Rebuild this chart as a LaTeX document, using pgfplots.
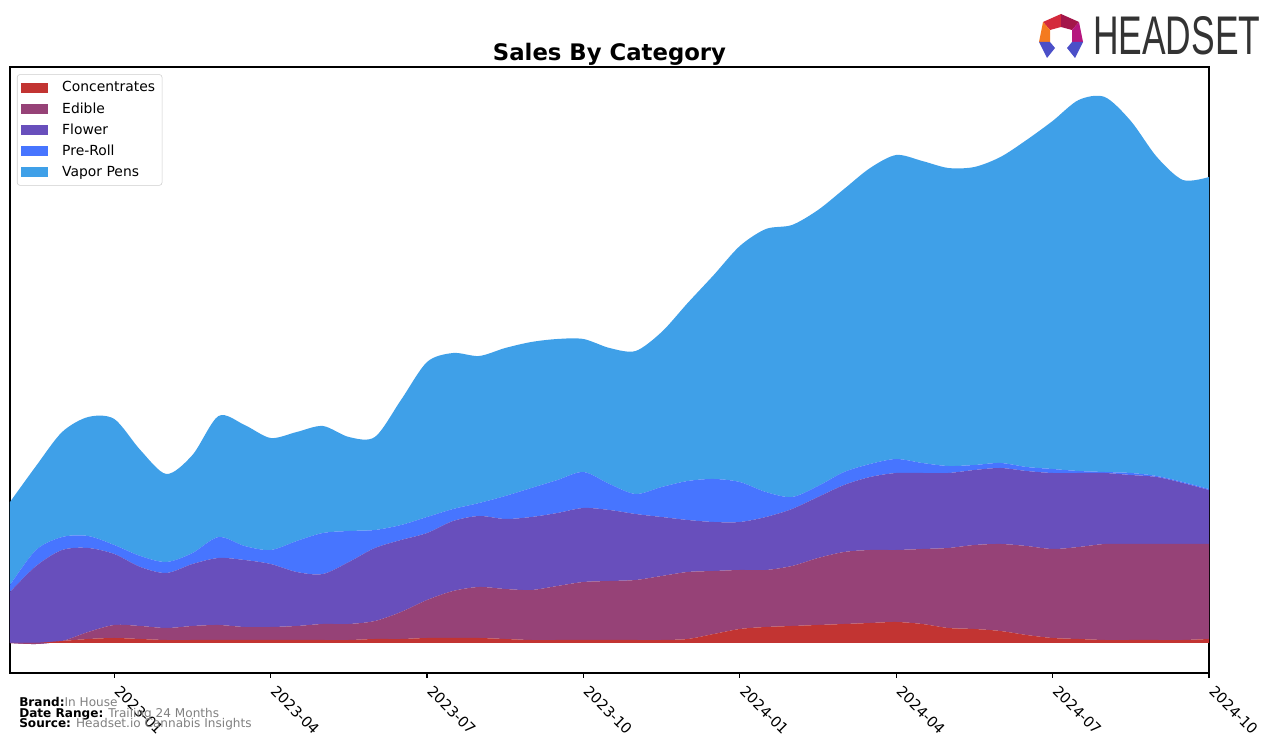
\documentclass[border=0pt]{standalone}
\usepackage{fontspec}
\setmainfont{DejaVu Sans}
\newfontfamily\logofont{Liberation Sans}
\usepackage{pgfplots}
\pgfplotsset{compat=1.18}
\usepackage{pgfplotstable}

\definecolor{cConc}{HTML}{C23432}
\definecolor{cEdi}{HTML}{964277}
\definecolor{cFlo}{HTML}{684FBC}
\definecolor{cPre}{HTML}{4775FF}
\definecolor{cVap}{HTML}{3FA0E8}
\definecolor{footgray}{HTML}{808080}
\definecolor{lgA}{HTML}{D42A3C}
\definecolor{lgB}{HTML}{A3164A}
\definecolor{lgC}{HTML}{B5177E}
\definecolor{lgD}{HTML}{F47A20}
\definecolor{lgE}{HTML}{4B4FC8}

\pgfplotstableread{
m conc edi flo pre vap
0 0 0 51 7 83
0.5 0 -1 78 16 84
1 2 0 91 13 105
1.5 4 7 84 12 119
2 5 13 71 9 126
2.5 4 13 59 11 106
3 3 12 55 11 88
3.5 3 14 62 11 98
4 3 15 67 21 121
4.5 3 13 67 14 121
5 3 13 63 14 112
5.5 3 14 54 31 109
6 3 16 50 41 107
6.5 3 16 62 31 94
7 4 18 73 18 93
7.5 4 27 72 15 125
8 5 38 67 16 155
8.5 5 47 70 12 156
9 5 51 71 13 147
9.5 4 50 70 23 148
10 3 50 73 29 146
10.5 3 54 73 33 141
11 3 58 74 36 133
11.5 3 59 71 26 136
12 3 60 66 20 143
12.5 3 64 59 30 155
13 4 67 52 39 178
13.5 9 63 49 43 204
14 14 59 48 40 236
14.5 16 57 53 25 263
15 17 60 57 12 272
15.5 18 67 61 11 276
16 19 72 67 13 283
16.5 20 73 73 13 296
17 21 72 77 14 304
17.5 19 75 76 10 302
18 15 80 75 7 298
18.5 14 84 75 5 298
19 12 87 76 5 306
19.5 8 89 75 4 327
20 5 89 76 4 348
20.5 4 92 74 2 371
21 3 96 71 1 375
21.5 3 96 69 2 352
22 3 96 67 1 319
22.5 3 96 61 1 302
23 4 95 54 1 312
}\datatable

\begin{document}
\begin{tikzpicture}
\path[use as bounding box] (-7.2pt,-50.4pt) rectangle (911.52pt,484.56pt);
\begin{axis}[
  at={(0pt,0pt)}, anchor=south west,
  scale only axis, width=863.28pt, height=436.32pt,
  xmin=0, xmax=23, ymin=-30, ymax=576,
  stack plots=y,
  ytick=\empty,
  xtick={2,5,8,11,14,17,20,23},
  xticklabels={2023-01,2023-04,2023-07,2023-10,2024-01,2024-04,2024-07,2024-10},
  xtick pos=lower, tick align=outside,
  major tick length=3.5pt,
  every tick/.style={black, line width=0.8pt},
  axis line style={line width=0.8pt},
  xticklabel style={font=\fontsize{10.5}{12}\selectfont, xshift=5pt, yshift=-4.7pt, rotate=-45, anchor=north west, inner sep=0pt},
  title={Sales By Category},
  title style={font=\bfseries\fontsize{16.4}{19}\selectfont, at={(0.5,1)}, anchor=base, yshift=-1.5pt},
  legend cell align=left,
  legend style={at={(0.0058,0.988)}, anchor=north west, draw=black!20, rounded corners=2pt,
    font=\fontsize{10}{12}\selectfont, row sep=2.2pt, inner xsep=3pt, inner ysep=3pt},
  legend image code/.code={\fill[#1, sharp corners] (0pt,-3.6pt) rectangle (19.4pt,3.6pt); \path (27.4pt,0pt);},
  every axis plot/.append style={smooth, draw=none},
]
\addplot[fill=cConc] table[x=m,y=conc]{\datatable} \closedcycle;
\addlegendentry{Concentrates}
\addplot[fill=cEdi] table[x=m,y=edi]{\datatable} \closedcycle;
\addlegendentry{Edible}
\addplot[fill=cFlo] table[x=m,y=flo]{\datatable} \closedcycle;
\addlegendentry{Flower}
\addplot[fill=cPre] table[x=m,y=pre]{\datatable} \closedcycle;
\addlegendentry{Pre-Roll}
\addplot[fill=cVap] table[x=m,y=vap]{\datatable} \closedcycle;
\addlegendentry{Vapor Pens}
\end{axis}
\begin{scope}[shift={(-7.2pt,484.56pt)}, x=0.72pt, y=-0.72pt]
  % footer
  \node[anchor=base west, inner sep=0pt, font=\fontsize{8.7}{10}\selectfont] at (19,706.5) {\textbf{Brand:}\textcolor{footgray}{In House}};
  \node[anchor=base west, inner sep=0pt, font=\fontsize{8.7}{10}\selectfont] at (19,717.5) {\textbf{Date Range:} \textcolor{footgray}{Trailing 24 Months}};
  \node[anchor=base west, inner sep=0pt, font=\fontsize{8.7}{10}\selectfont] at (19,728) {\textbf{Source:} \textcolor{footgray}{Headset.io Cannabis Insights}};
  % logo
  \fill[lgA] (1043,22) -- (1061,14) -- (1061,27) -- (1050,30) -- cycle;
  \fill[lgB] (1061,14) -- (1079,22) -- (1072,30) -- (1061,27) -- cycle;
  \fill[lgC] (1079,22) -- (1083,42) -- (1072,42) -- (1072,30) -- cycle;
  \fill[lgD] (1043,22) -- (1050,30) -- (1050,42) -- (1039,42) -- cycle;
  \fill[lgE] (1039,42) -- (1050,42) -- (1055,48) -- (1047,58) -- cycle;
  \fill[lgE] (1072,42) -- (1083,42) -- (1075,58) -- (1067,48) -- cycle;
  \node[anchor=base west, inner sep=0pt, text=black!80, xscale=0.65, font=\logofont\fontsize{39.2}{40}\selectfont] at (1093,55) {HEADSET};
\end{scope}
\end{tikzpicture}
\end{document}
